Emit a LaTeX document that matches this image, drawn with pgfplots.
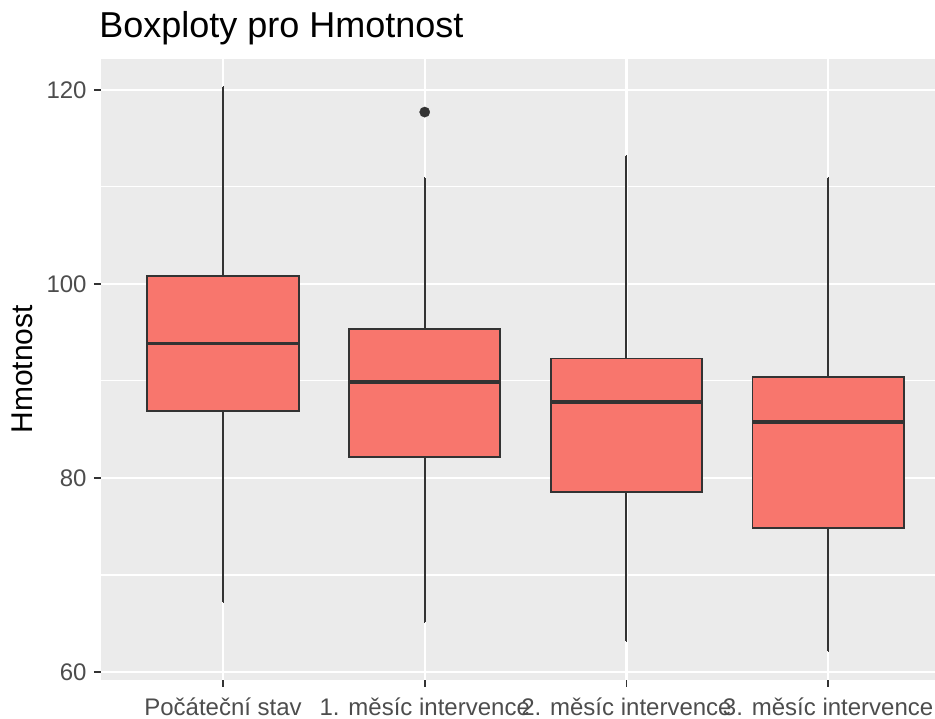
\documentclass[border=0pt]{standalone}
\usepackage{fontspec}
\setmainfont{Liberation Sans}
\usepackage{pgfplots}
\pgfplotsset{compat=1.18}
\usepgfplotslibrary{statistics}
\definecolor{boxfill}{HTML}{F8766D}
\definecolor{boxline}{HTML}{333333}
\definecolor{panelbg}{HTML}{EBEBEB}
\definecolor{ticktext}{HTML}{4D4D4D}
\begin{document}
\begin{tikzpicture}
\begin{axis}[
  name=ax,
  at={(0,0)}, anchor=south west,
  scale only axis,
  width=417pt, height=310.3pt,
  xmin=0.395, xmax=4.53,
  ymin=59.22, ymax=123.17,
  axis background/.style={fill=panelbg},
  axis line style={draw=none},
  xtick={1,2,3,4},
  xticklabels={Počáteční stav, 1. měsíc intervence, 2. měsíc intervence, 3. měsíc intervence},
  ytick={60,80,100,120},
  minor ytick={70,90,110},
  grid=both,
  major grid style={white, line width=1.1pt},
  minor grid style={white, line width=0.55pt},
  tick align=outside,
  xtick pos=left, ytick pos=left,
  major tick length=3.5pt,
  minor tick length=0pt,
  tick style={boxline, line width=0.8pt},
  tick label style={font=\fontsize{12}{14}\selectfont, text=ticktext, inner sep=0pt},
  yticklabel style={anchor=east, xshift=-3.5pt},
  xticklabel style={anchor=base, yshift=-14.7pt},
  /pgf/number format/assume math mode=true,
  boxplot/draw direction=y,
  boxplot/box extend=0.75,
  boxplot/whisker extend=0.005,
  boxplot/every median/.style={line width=1.8pt},
]
\addplot[boxplot prepared={lower whisker=67.17, lower quartile=86.92, median=93.87, upper quartile=100.78, upper whisker=120.26, draw position=1}, fill=boxfill, draw=boxline, line width=0.95pt] coordinates {};
\addplot[boxplot prepared={lower whisker=65.2, lower quartile=82.14, median=89.9, upper quartile=95.38, upper whisker=110.9, draw position=2}, fill=boxfill, draw=boxline, line width=0.95pt, mark=*, mark size=2.6pt, mark options={fill=boxline, draw=boxline, line width=0.1pt}] coordinates {(0,117.7)};
\addplot[boxplot prepared={lower whisker=63.17, lower quartile=78.52, median=87.84, upper quartile=92.31, upper whisker=113.2, draw position=3}, fill=boxfill, draw=boxline, line width=0.95pt] coordinates {};
\addplot[boxplot prepared={lower whisker=62.13, lower quartile=74.8, median=85.77, upper quartile=90.38, upper whisker=110.9, draw position=4}, fill=boxfill, draw=boxline, line width=0.95pt] coordinates {};
\end{axis}
\node[anchor=base west, inner sep=0pt, font=\fontsize{18}{20}\selectfont] at ([xshift=-1pt, yshift=10.5pt]ax.north west) {Boxploty pro Hmotnost};
\node[rotate=90, anchor=base, inner sep=0pt, font=\fontsize{15}{17}\selectfont] at ([xshift=-34pt]ax.west) {Hmotnost};
\pgfresetboundingbox
\useasboundingbox ([xshift=-50.5pt,yshift=-19.7pt]ax.south west) rectangle ([yshift=29.5pt]ax.north east);
\end{tikzpicture}
\end{document}
